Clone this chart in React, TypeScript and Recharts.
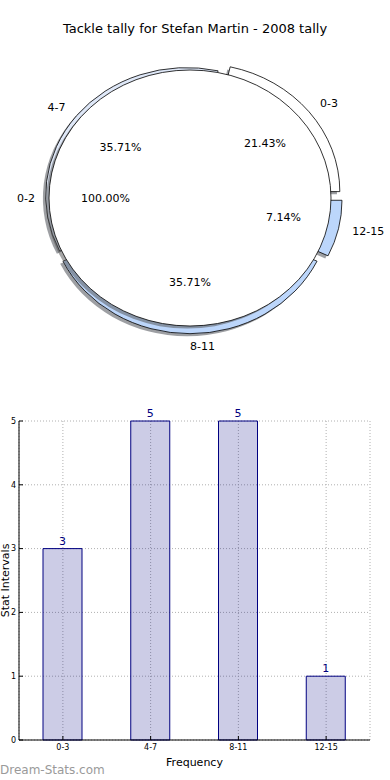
import React from 'react';
import { PieChart, Pie, BarChart, Bar, XAxis, YAxis, CartesianGrid, LabelList, Label } from 'recharts';

const INTERVALS = ['0-3', '4-7', '8-11', '12-15'];
const COUNTS = [3, 5, 5, 1];
const EXTRA_NAMES = ['0-2'];
const EXTRA_VALUES = [14];
const Y_TICKS = [0, 1, 2, 3, 4, 5];

// styling for the pie, kept apart from the values
const SLICE_COLORS = ['#ffffff', '#dfe8f8', '#bcd6fb', '#bcd6fb'];
const EXPLODE = [0.08, 0.03, 0.06, 0.08];
const RY_RATIO = 128 / 141;
const SHADOW_DX = -2.8;
const SHADOW_DY = 2.6;
const FONT = '"DejaVu Sans", sans-serif';

const sliceData = INTERVALS.map((name, i) => ({ name, value: COUNTS[i] }));
const extraData = EXTRA_NAMES.map((name, i) => ({ name, value: EXTRA_VALUES[i] }));
const barData = INTERVALS.map((name, i) => ({ name, value: COUNTS[i] }));

const rad = (a: number) => (a * Math.PI) / 180;

function pt(cx: number, cy: number, rx: number, ry: number, angle: number) {
  return [cx + rx * Math.cos(rad(angle)), cy - ry * Math.sin(rad(angle))];
}

function wedgePath(cx: number, cy: number, rx: number, ry: number, start: number, end: number) {
  const [x1, y1] = pt(cx, cy, rx, ry, start);
  const [x2, y2] = pt(cx, cy, rx, ry, end);
  const large = end - start > 180 ? 1 : 0;
  return `M${cx},${cy} L${x1},${y1} A${rx},${ry} 0 ${large} 0 ${x2},${y2} Z`;
}

// exploded wedge + its shadow, placed from the pie's own angles
const renderWedge = (props: any) => {
  const { cx, cy, outerRadius, startAngle, endAngle, index } = props;
  const rx = outerRadius;
  const ry = outerRadius * RY_RATIO;
  const mid = (startAngle + endAngle) / 2;
  const e = EXPLODE[index];
  const ox = cx + e * rx * Math.cos(rad(mid));
  const oy = cy - e * ry * Math.sin(rad(mid));
  const d = wedgePath(ox, oy, rx, ry, startAngle, endAngle);
  return (
    <g key={`w-${index}`}>
      <path d={d} transform={`translate(${SHADOW_DX},${SHADOW_DY})`} fill="rgba(60,64,72,0.5)" />
      <path d={d} fill={SLICE_COLORS[index]} stroke="#000" strokeWidth={0.8} />
    </g>
  );
};

function sliceTexts(props: any, e: number) {
  const { cx, cy, outerRadius, startAngle, endAngle, percent, name, index } = props;
  const rx = outerRadius;
  const ry = outerRadius * RY_RATIO;
  const mid = (startAngle + endAngle) / 2;
  const c = Math.cos(rad(mid));
  const s = Math.sin(rad(mid));
  const anchor = c >= -0.01 ? 'start' : 'end';
  return (
    <g key={`t-${name}-${index}`}>
      <text x={cx + (1.1 + e) * rx * c} y={cy - (1.1 + e) * ry * s} textAnchor={anchor}
        dominantBaseline="central" fontSize={11} fill="#000" fontFamily={FONT}>{name}</text>
      <text x={cx + (0.6 + e) * rx * c} y={cy - (0.6 + e) * ry * s} textAnchor="middle"
        dominantBaseline="central" fontSize={11} fill="#000" fontFamily={FONT}>{(percent * 100).toFixed(2)}%</text>
    </g>
  );
}

const renderFull = (props: any) => {
  const { cx, cy, outerRadius } = props;
  const rx = outerRadius;
  const ry = outerRadius * RY_RATIO;
  return (
    <g key="full">
      <ellipse cx={cx + SHADOW_DX} cy={cy + SHADOW_DY} rx={rx} ry={ry} fill="rgba(77,77,77,0.5)" />
      <ellipse cx={cx} cy={cy} rx={rx} ry={ry} fill="#fff" stroke="#000" strokeWidth={0.8} />
      {sliceTexts(props, 0)}
    </g>
  );
};

const renderSliceTexts = (props: any) => sliceTexts(props, EXPLODE[props.index]);

const NO_MARGIN = { top: 0, right: 0, bottom: 0, left: 0 };

export default function App() {
  return (
    <div style={{ position: 'absolute', left: 0, top: 0, width: 390, height: 780, background: '#fff', fontFamily: FONT, overflow: 'hidden' }}>
      <div style={{ position: 'absolute', left: 0, width: 390, top: 21, textAlign: 'center', fontSize: 13, color: '#000' }}>
        Tackle tally for Stefan Martin - 2008 tally
      </div>

      <div style={{ position: 'absolute', left: 0, top: 0 }}>
        <PieChart width={390} height={390} margin={NO_MARGIN}>
          <Pie data={sliceData} dataKey="value" nameKey="name" cx={190} cy={198} outerRadius={141}
            startAngle={0} endAngle={360} fill="none" stroke="none" label={renderWedge} labelLine={false}
            isAnimationActive={false} />
          <Pie data={extraData} dataKey="value" nameKey="name" cx={190} cy={198} outerRadius={141}
            startAngle={0} endAngle={360} fill="none" stroke="none" label={renderFull} labelLine={false}
            isAnimationActive={false} />
          <Pie data={sliceData} dataKey="value" nameKey="name" cx={190} cy={198} outerRadius={141}
            startAngle={0} endAngle={360} fill="none" stroke="none" label={renderSliceTexts} labelLine={false}
            isAnimationActive={false} />
        </PieChart>
      </div>

      <div style={{ position: 'absolute', left: 0, top: 400 }}>
        <BarChart width={390} height={380} data={barData} margin={{ top: 21, right: 20, left: 0, bottom: 0 }}>
          <CartesianGrid stroke="#b0b0b0" strokeDasharray="1 2" />
          <XAxis dataKey="name" interval={0} height={40} tick={{ fontSize: 8, fill: '#000' }}
            tickSize={-4} tickMargin={8} axisLine={{ stroke: '#000' }} tickLine={{ stroke: '#000' }}>
            <Label value="Frequency" position="insideBottom" offset={14} fontSize={11} fill="#000" />
          </XAxis>
          <XAxis xAxisId="top" orientation="top" dataKey="name" height={0} interval={0}
            tickFormatter={() => ''} tickSize={-4} axisLine={{ stroke: '#000' }} tickLine={{ stroke: '#000' }} />
          <YAxis domain={[0, 5]} ticks={Y_TICKS} width={19} tick={{ fontSize: 8, fill: '#000' }}
            tickSize={-4} tickMargin={7} axisLine={{ stroke: '#000' }} tickLine={{ stroke: '#000' }}>
            <Label
              content={(p: any) => {
                const vb = p.viewBox;
                const y = vb.y + vb.height / 2;
                return (
                  <text x={9} y={y} transform={`rotate(-90, 9, ${y})`} textAnchor="middle" fontSize={11} fill="#000">
                    Stat Intervals
                  </text>
                );
              }}
            />
          </YAxis>
          <YAxis yAxisId="right" orientation="right" domain={[0, 5]} ticks={Y_TICKS} width={0}
            tickFormatter={() => ''} tickSize={-4} axisLine={{ stroke: '#000' }} tickLine={{ stroke: '#000' }} />
          <Bar dataKey="value" barSize={39} fill="#000080" fillOpacity={0.2} stroke="#000080" strokeWidth={1}
            isAnimationActive={false}>
            <LabelList dataKey="value" position="top" offset={4} fontSize={11} fill="#000080" />
          </Bar>
        </BarChart>
      </div>

      <div style={{ position: 'absolute', left: 0, top: 763, fontSize: 12, color: '#9a9a9a' }}>Dream-Stats.com</div>
    </div>
  );
}
